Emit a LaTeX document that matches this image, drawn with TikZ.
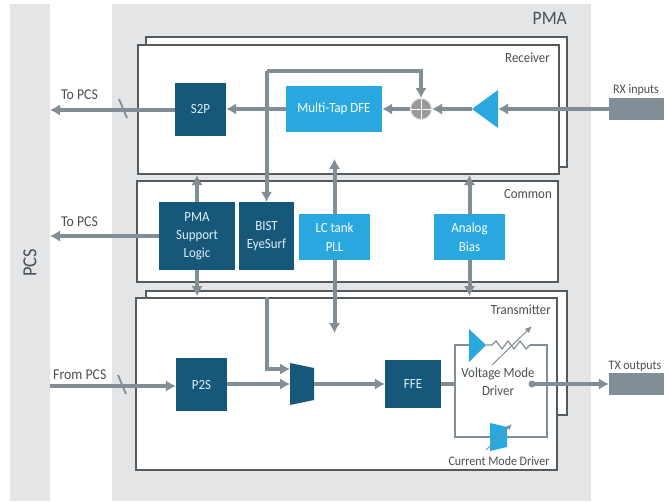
\documentclass[tikz,border=0pt]{standalone}
\usepackage{fontspec}
\setmainfont[FakeStretch=0.92]{Carlito}
\usetikzlibrary{positioning, arrows.meta, calc}
\definecolor{panelgrey}{HTML}{E4E5E7}
\definecolor{darkblock}{HTML}{17577A}
\definecolor{lightblock}{HTML}{29A8E0}
\definecolor{wiregrey}{HTML}{818E95}
\definecolor{framegrey}{HTML}{555A5E}
\definecolor{labelgrey}{HTML}{4A4F53}
\tikzset{
	frame/.style={draw=framegrey,fill=white,line width=1.2pt,inner sep=0pt},
	darkbox/.style={fill=darkblock,text=white!85!lightblock,align=center,inner sep=0pt,font=\fontsize{14}{18}\selectfont},
	lightbox/.style={fill=lightblock,text=white,align=center,inner sep=0pt,font=\fontsize{14}{19}\selectfont},
	caption/.style={text=labelgrey,inner sep=0pt,font=\fontsize{14}{18}\selectfont},
	buslabel/.style={caption,font=\fontsize{15}{18}\selectfont},
	portlabel/.style={caption,font=\fontsize{13}{16}\selectfont},
	wire/.style={draw=wiregrey,line width=4pt,-{Latex[length=10pt,width=11.5pt]}},
	plainwire/.style={draw=wiregrey,line width=4pt},
	thinwire/.style={draw=wiregrey,line width=1.2pt},
	tick/.style={draw=wiregrey,line width=1.8pt},
}

\begin{document}
\begin{tikzpicture}[x=1pt,y=-1pt]
	\useasboundingbox (0,0) rectangle (667,501);
	% background panels
	\fill[panelgrey] (10,4) rectangle (50,501);
	\fill[panelgrey] (112,4) rectangle (591,501);
	\node[caption,rotate=90,font=\fontsize{20}{22}\selectfont] (pcslabel) at (30,263) {PCS};
	\node[caption,anchor=east,font=\fontsize{19}{22}\selectfont] (pmalabel) at (567,18) {PMA};

	% frames
	\draw[frame] (146,37) rectangle (567,167);
	\node[frame,minimum width=421pt,minimum height=129pt] (rx) at (348.5,109.5) {};
	\node[frame,minimum width=421pt,minimum height=101pt] (common) at (347.5,231.5) {};
	\draw[frame] (146,291) rectangle (567,415);
	\node[frame,minimum width=421pt,minimum height=172pt] (tx) at (346.5,384) {};
	\node[caption,anchor=east] (rxlabel) at (550,58) {Receiver};
	\node[caption,anchor=east] (commonlabel) at (552,194) {Common};
	\node[caption,anchor=east] (txlabel) at (551,310) {Transmitter};

	% blocks
	\node[darkbox,minimum width=51pt,minimum height=53pt] (s2p) at (200.5,109.5) {S2P};
	\node[lightbox,minimum width=96pt,minimum height=46pt] (dfe) at (334,109) {Multi-Tap DFE};
	\node[darkbox,minimum width=76pt,minimum height=68pt] (support) at (197,236) {PMA\\Support\\Logic};
	\node[darkbox,minimum width=55pt,minimum height=68pt] (bist) at (266.5,236) {BIST\\EyeSurf};
	\node[lightbox,minimum width=71pt,minimum height=46pt] (lctank) at (334.5,237) {LC tank\\PLL};
	\node[lightbox,minimum width=71pt,minimum height=46pt] (bias) at (469.5,237) {Analog\\Bias};
	\node[darkbox,minimum width=51pt,minimum height=53pt] (p2s) at (201.5,384.5) {P2S};
	\node[darkbox,minimum width=56pt,minimum height=48pt] (ffe) at (413,384) {FFE};
	\node[fill=wiregrey,minimum width=55pt,minimum height=22pt,inner sep=0pt] (rxin) at (636.5,109) {};
	\node[fill=wiregrey,minimum width=55pt,minimum height=22pt,inner sep=0pt] (txout) at (636.5,384) {};
	\node[circle,fill=black!40,draw=black!12,line width=1pt,minimum size=21pt,inner sep=0pt] (sum) at (421,109) {};
	\draw[white,line width=1pt] (sum.north) -- (sum.south) (sum.west) -- (sum.east);

	% amplifier and mux
	\coordinate (amptip) at (472,109);
	\coordinate (ampbase) at (498,109);
	\fill[lightblock] (amptip) -- (498,90) -- (498,128) -- cycle;
	\coordinate (muxin) at (290,384);
	\coordinate (muxsel) at (290,369);
	\coordinate (muxout) at (314,384);
	\fill[darkblock] (290,363) -- (314,368) -- (314,400) -- (290,405) -- cycle;

	% receive path
	\coordinate (tospcsa) at (50,110);
	\coordinate (tospcsb) at (50,236);
	\coordinate (frompcs) at (50,386);
	\coordinate (fbcorner) at (266,71);
	\draw[wire] (s2p.west |- tospcsa) -- (tospcsa);
	\draw[wire] (dfe.west) -- (s2p.east |- dfe.west);
	\draw[wire] (sum.west) -- (dfe.east);
	\draw[wire] (amptip) -- (sum.east);
	\draw[wire] (rxin.west) -- (ampbase);
	\draw[wire] (bist.north |- fbcorner) -| (sum.north);
	\draw[wire] (bist.north |- fbcorner) -- (bist.north);

	% links through common
	\draw[wire] (support.north) -- (197,175);
	\draw[wire] (support.south) -- (197,296);
	\draw[wire] (lctank.north) -- (334.5,159);
	\draw[wire] (lctank.south) -- (334.5,333);
	\draw[wire] (bias.north) -- (469.5,175);
	\draw[wire] (bias.south) -- (469.5,296);
	\draw[wire] (support.west) -- (tospcsb);

	% transmit path
	\draw[wire] (frompcs) -- (frompcs -| p2s.west);
	\draw[wire] (p2s.east |- muxin) -- (muxin);
	\draw[wire] (bist.south |- tx.north) |- (muxsel);
	\draw[wire] (muxout) -- (ffe.west);
	\coordinate (drvleft) at (455,384);
	\coordinate (drvdot) at (532,384);
	\draw[plainwire] (ffe.east) -- (drvleft);
	\draw[wire] (drvdot) -- (txout.west);
	\fill[wiregrey] (drvdot) circle (3.5pt);

	% slashes on the buses
	\draw[tick] (119,99) -- (127,118);
	\draw[tick] (118,375) -- (126,394);
	\node[buslabel,anchor=west] (topcsa) at (61,95) {To PCS};
	\node[buslabel,anchor=west] (topcsb) at (61,222) {To PCS};
	\node[buslabel,anchor=west] (frompcslabel) at (53,375) {From PCS};
	\node[portlabel,anchor=south] (rxinlabel) at (636,96) {RX inputs};
	\node[portlabel,anchor=south] (txoutlabel) at (635,372) {TX outputs};

	% driver loop
	\coordinate (loopa) at (469,345);
	\coordinate (loopb) at (530,345);
	\coordinate (loopc) at (490,437);
	\coordinate (loopd) at (507,437);
	\draw[thinwire] (loopa) -- (455,345) -- (455,437) -- (loopc);
	\draw[thinwire] (loopd) -- (547,437) -- (547,345) -- (loopb);
	\draw[thinwire] (486,345) -- (492,345) -- (496,341) -- (502,349) -- (508,341) -- (514,349) -- (520,341) -- (526,349) -- (loopb);
	\fill[lightblock] (469,329) -- (486,345) -- (469,362) -- cycle;
	\draw[thinwire,line width=1pt,-{Latex[length=7pt,width=6pt]}] (492,365) -- (532,326);
	\fill[lightblock] (490,423) -- (507,427) -- (507,447) -- (490,451) -- cycle;
	\draw[thinwire,line width=1pt,-{Latex[length=6pt,width=5pt]}] (486,450) -- (512,424);
	\node[caption,align=center] (vmdriver) at (498,382) {Voltage Mode\\Driver};
	\node[caption,font=\fontsize{13}{15}\selectfont] (cmdriver) at (499,461) {Current Mode Driver};
\end{tikzpicture}
\end{document}
